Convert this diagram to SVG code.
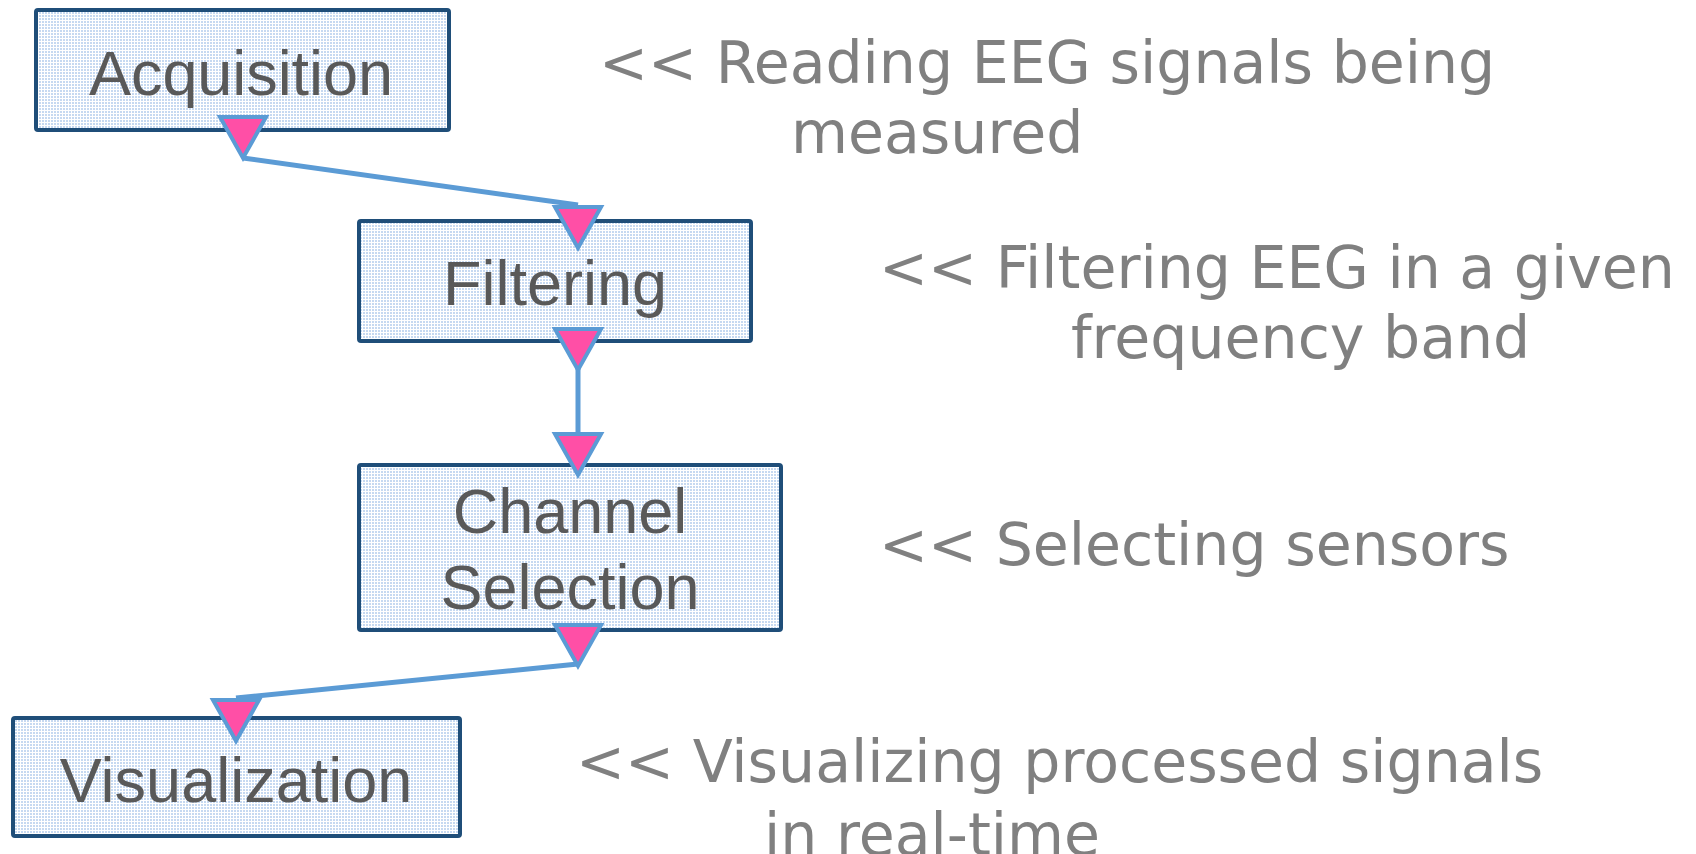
<svg xmlns="http://www.w3.org/2000/svg" width="1696" height="854" viewBox="0 0 1696 854">
  <style>
    .box { fill: url(#dots); stroke: #1f4e79; stroke-width: 4; }
    .label { font-family: "Liberation Sans", Arial, sans-serif; font-size: 63px; fill: #595959; text-anchor: middle; }
    .note { font-family: "DejaVu Sans", Verdana, sans-serif; font-size: 58.5px; fill: #808080; }
    .wire { stroke: #5b9bd5; stroke-width: 5; fill: none; stroke-linecap: butt; }
    .tip { fill: #ff4fa6; stroke: #5b9bd5; stroke-width: 4; stroke-linejoin: miter; }
  </style>
  <defs>
    <!-- light blue dotted fill for the process boxes -->
    <pattern id="dots" width="3" height="3" patternUnits="userSpaceOnUse">
      <rect width="3" height="3" fill="#ffffff"/>
      <rect width="2" height="2" fill="#c6d9f1"/>
    </pattern>
    <!-- downward pointing triangle used at both ends of every connector -->
    <polygon id="tri" class="tip" points="-23,2 23,2 0,43"/>
  </defs>

  <rect width="1696" height="854" fill="#ffffff"/>

  <g id="node-acquisition">
    <rect class="box" x="36" y="10" width="413" height="120" rx="2"/>
    <text class="label" x="241" y="95" font-size="65" textLength="304" lengthAdjust="spacing">Acquisition</text>
  </g>

  <g id="node-filtering">
    <rect class="box" x="359" y="221" width="392" height="120" rx="2"/>
    <text class="label" x="555" y="305">Filtering</text>
  </g>

  <g id="node-channel-selection">
    <rect class="box" x="359" y="465" width="422" height="165" rx="2"/>
    <text class="label" x="570" y="533">Channel</text>
    <text class="label" x="570" y="609">Selection</text>
  </g>

  <g id="node-visualization">
    <rect class="box" x="13" y="718" width="447" height="118" rx="2"/>
    <text class="label" x="236" y="802">Visualization</text>
  </g>

  <g id="connectors">
    <line class="wire" x1="243" y1="158" x2="578" y2="205"/>
    <line class="wire" x1="578" y1="366" x2="578" y2="432"/>
    <line class="wire" x1="578" y1="664" x2="236" y2="698"/>
    <use href="#tri" x="243" y="115"/>
    <use href="#tri" x="578" y="205"/>
    <use href="#tri" x="578" y="327"/>
    <use href="#tri" x="578" y="432"/>
    <use href="#tri" x="578" y="623"/>
    <use href="#tri" x="236" y="698"/>
  </g>

  <g id="notes">
    <text class="note" x="599" y="83">&lt;&lt; Reading EEG signals being</text>
    <text class="note" x="791" y="153">measured</text>
    <text class="note" x="879" y="288">&lt;&lt; Filtering EEG in a given</text>
    <text class="note" x="1071" y="358">frequency band</text>
    <text class="note" x="879" y="565">&lt;&lt; Selecting sensors</text>
    <text class="note" x="576" y="782">&lt;&lt; Visualizing processed signals</text>
    <text class="note" x="764" y="855">in real-time</text>
  </g>
</svg>
